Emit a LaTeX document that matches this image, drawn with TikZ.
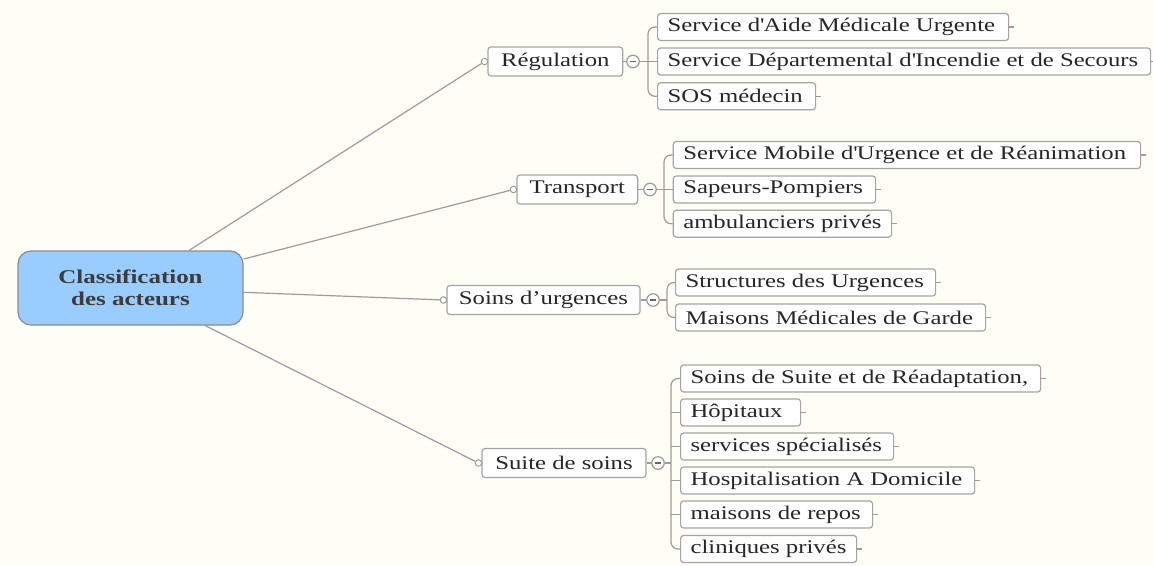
\documentclass[tikz,border=0pt]{standalone}
\usepackage{fontspec}
\setmainfont{Liberation Serif}[FakeStretch=1.28]
\definecolor{bgc}{HTML}{FEFEF7}
\definecolor{linec}{HTML}{9C9C9C}
\definecolor{boxc}{HTML}{A4A4A4}
\definecolor{txt}{HTML}{262626}
\definecolor{rootfill}{HTML}{99CCFF}
\definecolor{rootline}{HTML}{8C8C8C}
\definecolor{roottxt}{HTML}{3C3C3C}
\tikzset{
  conn/.style={draw=linec, line width=1.2pt},
  leafbox/.style={draw=boxc, fill=white, rounded corners=3pt, line width=1.2pt,
    minimum height=27pt, inner xsep=10pt, inner ysep=0pt, anchor=west,
    font=\fontsize{19.3}{22}\selectfont, text=txt},
  branchbox/.style={draw=boxc, fill=white, rounded corners=3pt, line width=1.2pt,
    minimum height=29pt, inner xsep=0pt, inner ysep=0pt,
    font=\fontsize{19.3}{22}\selectfont, text=txt},
  collapse/.style={circle, draw=linec, fill=white, minimum size=12.5pt, inner sep=0pt, line width=1.2pt,
    path picture={\draw[txt!70, line width=1.1pt] ([xshift=-3pt]path picture bounding box.center) -- ([xshift=3pt]path picture bounding box.center);}},
  attach/.style={circle, draw=linec, fill=white, minimum size=6.5pt, inner sep=0pt, line width=1pt},
  rootbox/.style={draw=rootline, fill=rootfill, rounded corners=13pt, line width=1.2pt,
    minimum width=225pt, minimum height=74pt, align=center,
    font=\fontsize{19.5}{22}\selectfont\bfseries, text=roottxt},
}
\newcommand\leafnode[5]{%
  \node[leafbox, minimum width=#4pt] (#1) at (#2,#3) {\makebox[\dimexpr#4pt-20pt\relax][l]{#5}};
  \draw[conn] (#1.east) -- ++(5,0);
}
\begin{document}
\begin{tikzpicture}[x=1pt, y=-1pt]
\useasboundingbox (0,0) rectangle (1153,565);
\fill[bgc] (0,0) rectangle (1153,565);

% root
\node[rootbox] (root) at (130.5,288) {Classification\\des acteurs};

% branch: Regulation
\node[branchbox, minimum width=134.7pt] (reg) at (555.3,61.5) {Régulation};
\node[attach] (areg) at (484.5,61.5) {};
\node[collapse] (creg) at (633,61.5) {};
\draw[conn] (root) -- (areg);
\draw[conn] (reg.east) -- (creg.west);
\leafnode{r1}{657}{27}{351}{Service d\textquotesingle Aide Médicale Urgente}
\leafnode{r2}{657}{61.5}{493}{Service Départemental d\textquotesingle Incendie et de Secours}
\leafnode{r3}{657}{96.3}{158}{SOS médecin}
\draw[conn, rounded corners=7pt] (r1.west) -- (648,27) -- (648,96.3) -- (r3.west);
\draw[conn] (creg.east) -- (r2.west);

% branch: Transport
\node[branchbox, minimum width=120.7pt] (tra) at (577.3,189.5) {Transport};
\node[attach] (atra) at (513.5,189.5) {};
\node[collapse] (ctra) at (650,189.5) {};
\draw[conn] (root) -- (atra);
\draw[conn] (tra.east) -- (ctra.west);
\leafnode{t1}{672.7}{155}{467.3}{Service Mobile d\textquotesingle Urgence et de Réanimation}
\leafnode{t2}{672.7}{189.5}{202.3}{Sapeurs-Pompiers}
\leafnode{t3}{672.7}{223.7}{218.3}{ambulanciers privés}
\draw[conn, rounded corners=7pt] (t1.west) -- (664,155) -- (664,223.7) -- (t3.west);
\draw[conn] (ctra.east) -- (t2.west);

% branch: Soins d'urgences
\node[branchbox, minimum width=193pt] (sou) at (543.5,300) {Soins d’urgences};
\node[attach] (asou) at (443.5,300) {};
\node[collapse] (csou) at (653,300) {};
\draw[conn] (root) -- (asou);
\draw[conn] (sou.east) -- (csou.west);
\leafnode{s1}{675}{282.5}{260}{Structures des Urgences}
\leafnode{s2}{675}{317.5}{310}{Maisons Médicales de Garde}
\draw[conn, rounded corners=7pt] (s1.west) -- (667,282.5) -- (667,317.5) -- (s2.west);
\draw[conn] (csou.east) -- (667,300);

% branch: Suite de soins
\node[branchbox, minimum width=164pt] (sui) at (564,463) {Suite de soins};
\node[attach] (asui) at (478.5,463) {};
\node[collapse] (csui) at (658,463) {};
\draw[conn] (root) -- (asui);
\draw[conn] (sui.east) -- (csui.west);
\leafnode{u1}{680}{378.5}{360}{Soins de Suite et de Réadaptation,}
\leafnode{u2}{680}{412.5}{120}{Hôpitaux}
\leafnode{u3}{680}{446.5}{213}{services spécialisés}
\leafnode{u4}{680}{480.5}{294}{Hospitalisation A Domicile}
\leafnode{u5}{680}{514.5}{192}{maisons de repos}
\leafnode{u6}{680}{549}{176}{cliniques privés}
\draw[conn, rounded corners=7pt] (u1.west) -- (671,378.5) -- (671,549) -- (u6.west);
\draw[conn] (u2.west) -- (671,412.5);
\draw[conn] (u3.west) -- (671,446.5);
\draw[conn] (u4.west) -- (671,480.5);
\draw[conn] (u5.west) -- (671,514.5);
\draw[conn] (csui.east) -- (671,463);
\end{tikzpicture}
\end{document}
